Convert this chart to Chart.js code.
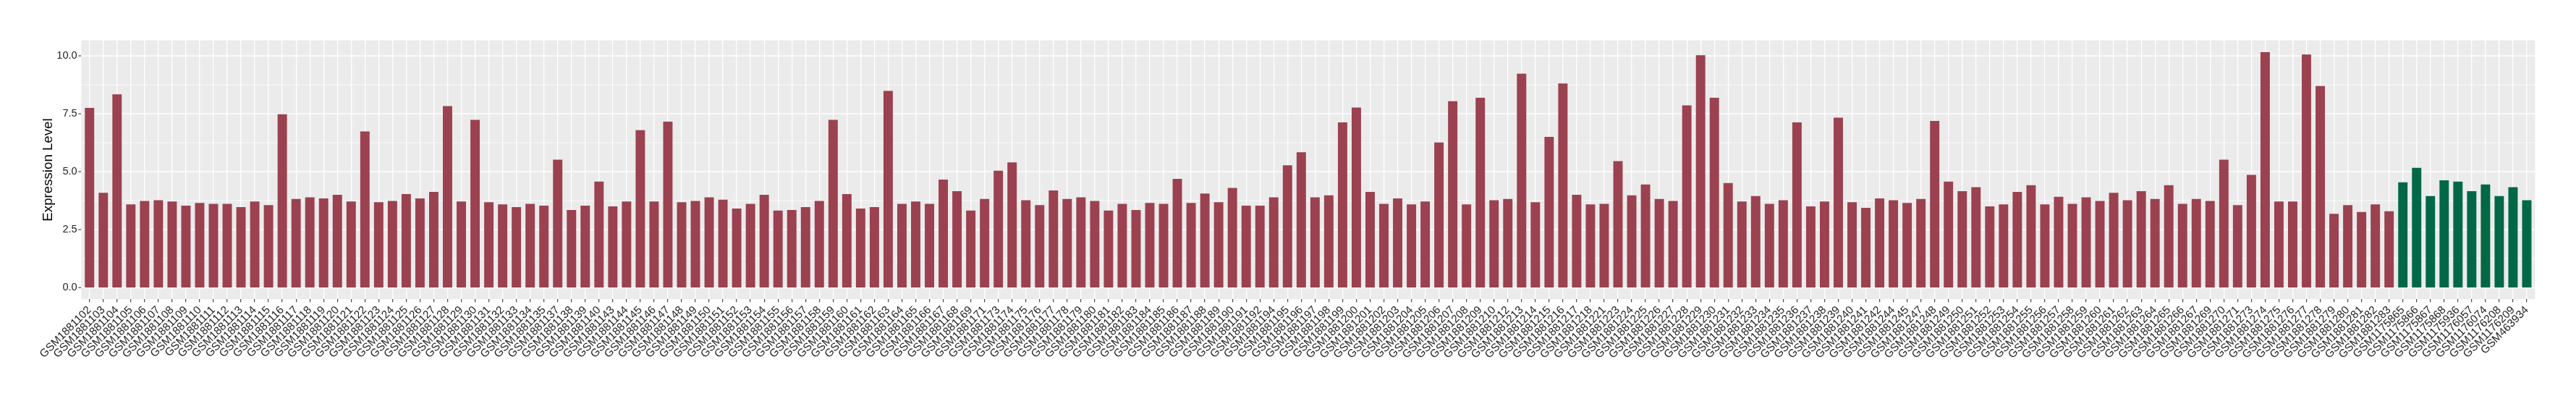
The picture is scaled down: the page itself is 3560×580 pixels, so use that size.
<!DOCTYPE html>
<html>
<head>
<meta charset="utf-8">
<script src="https://cdn.jsdelivr.net/npm/chart.js@4.4.1/dist/chart.umd.min.js"></script>
<style>
  html, body { margin: 0; padding: 0; background: #ffffff; }
  canvas { display: block; }
</style>
</head>
<body>
<canvas id="c" width="3560" height="580"></canvas>
<script>
// ---- Data ----
const redSamples = [
  "GSM1881102","GSM1881103","GSM1881104","GSM1881105","GSM1881106","GSM1881107","GSM1881108","GSM1881109","GSM1881110","GSM1881111",
  "GSM1881112","GSM1881113","GSM1881114","GSM1881115","GSM1881116","GSM1881117","GSM1881118","GSM1881119","GSM1881120","GSM1881121",
  "GSM1881122","GSM1881123","GSM1881124","GSM1881125","GSM1881126","GSM1881127","GSM1881128","GSM1881129","GSM1881130","GSM1881131",
  "GSM1881132","GSM1881133","GSM1881134","GSM1881135","GSM1881137","GSM1881138","GSM1881139","GSM1881140","GSM1881143","GSM1881144",
  "GSM1881145","GSM1881146","GSM1881147","GSM1881148","GSM1881149","GSM1881150","GSM1881151","GSM1881152","GSM1881153","GSM1881154",
  "GSM1881155","GSM1881156","GSM1881157","GSM1881158","GSM1881159","GSM1881160","GSM1881161","GSM1881162","GSM1881163","GSM1881164",
  "GSM1881165","GSM1881166","GSM1881167","GSM1881168","GSM1881169","GSM1881171","GSM1881173","GSM1881174","GSM1881175","GSM1881176",
  "GSM1881177","GSM1881178","GSM1881179","GSM1881180","GSM1881181","GSM1881182","GSM1881183","GSM1881184","GSM1881185","GSM1881186",
  "GSM1881187","GSM1881188","GSM1881189","GSM1881190","GSM1881191","GSM1881192","GSM1881194","GSM1881195","GSM1881196","GSM1881197",
  "GSM1881198","GSM1881199","GSM1881200","GSM1881201","GSM1881202","GSM1881203","GSM1881204","GSM1881205","GSM1881206","GSM1881207",
  "GSM1881208","GSM1881209","GSM1881210","GSM1881212","GSM1881213","GSM1881214","GSM1881215","GSM1881216","GSM1881217","GSM1881218",
  "GSM1881221","GSM1881223","GSM1881224","GSM1881225","GSM1881226","GSM1881227","GSM1881228","GSM1881229","GSM1881230","GSM1881231",
  "GSM1881232","GSM1881233","GSM1881234","GSM1881235","GSM1881236","GSM1881237","GSM1881238","GSM1881239","GSM1881240","GSM1881241",
  "GSM1881242","GSM1881244","GSM1881245","GSM1881247","GSM1881248","GSM1881249","GSM1881250","GSM1881251","GSM1881252","GSM1881253",
  "GSM1881254","GSM1881255","GSM1881256","GSM1881257","GSM1881258","GSM1881259","GSM1881260","GSM1881261","GSM1881262","GSM1881263",
  "GSM1881264","GSM1881265","GSM1881266","GSM1881267","GSM1881269","GSM1881270","GSM1881271","GSM1881273","GSM1881274","GSM1881275",
  "GSM1881276","GSM1881277","GSM1881278","GSM1881279","GSM1881280","GSM1881281","GSM1881282","GSM1881283"
];
const redValues = [
  7.75,4.09,8.34,3.59,3.74,3.77,3.71,3.53,3.65,3.61,
  3.61,3.47,3.71,3.56,7.48,3.82,3.89,3.85,4.00,3.71,
  6.74,3.68,3.74,4.03,3.85,4.13,7.83,3.71,7.24,3.68,
  3.59,3.47,3.61,3.53,5.52,3.35,3.53,4.57,3.50,3.71,
  6.79,3.71,7.16,3.68,3.74,3.89,3.79,3.41,3.61,4.00,
  3.32,3.35,3.47,3.74,7.24,4.03,3.41,3.47,8.49,3.61,
  3.71,3.61,4.66,4.16,3.32,3.82,5.04,5.40,3.77,3.56,
  4.19,3.82,3.89,3.74,3.32,3.61,3.35,3.65,3.61,4.69,
  3.65,4.06,3.68,4.30,3.53,3.53,3.89,5.28,5.84,3.89,
  3.98,7.13,7.77,4.13,3.61,3.85,3.59,3.71,6.26,8.04,
  3.59,8.19,3.77,3.82,9.23,3.68,6.50,8.81,4.00,3.59,
  3.61,5.46,3.98,4.45,3.82,3.74,7.86,10.03,8.19,4.51,
  3.71,3.95,3.61,3.77,7.13,3.50,3.71,7.33,3.68,3.44,
  3.85,3.77,3.65,3.82,7.19,4.57,4.16,4.33,3.50,3.59,
  4.13,4.42,3.59,3.92,3.61,3.89,3.74,4.09,3.77,4.16,
  3.82,4.42,3.61,3.82,3.74,5.52,3.56,4.86,10.16,3.71,
  3.71,10.06,8.70,3.18,3.56,3.26,3.59,3.29
];
const greenSamples = [
  "GSM1175865","GSM1175866","GSM1175867","GSM1175868","GSM1175936",
  "GSM1176057","GSM1176074","GSM1176208","GSM1176209","GSM463934"
];
const greenValues = [4.54,5.17,3.95,4.63,4.57,4.16,4.45,3.95,4.33,3.77];

const yMajorTicks = [0, 2.5, 5, 7.5, 10];
const yMinorTicks = [1.25, 3.75, 6.25, 8.75];
const yTitle = "Expression Level";

// ---- Styles ----
const RED = "#9B4150";
const GREEN = "#006847";
const PANEL = "#EBEBEB";
const FONT = "'Liberation Sans', Arial, Helvetica, sans-serif";
const TEXT = "#1f1f1f";

const categories = redSamples.concat(greenSamples);
const values = redValues.concat(greenValues);
const colors = redSamples.map(() => RED).concat(greenSamples.map(() => GREEN));

const panelPlugin = {
  id: 'panelPlugin',
  beforeDraw(chart) {
    const {ctx, chartArea, scales} = chart;
    const xs = scales.x;
    const cw = xs.getPixelForValue(1) - xs.getPixelForValue(0);
    const left = chartArea.left - 0.1 * cw;
    const right = chartArea.right + 0.1 * cw;
    chart.$panel = {left, right};
    ctx.save();
    ctx.fillStyle = PANEL;
    ctx.fillRect(left, chartArea.top, right - left, chartArea.bottom - chartArea.top);
    // y tick marks
    ctx.strokeStyle = "#333333";
    ctx.lineWidth = 1.1;
    yMajorTicks.forEach(v => {
      const y = scales.y.getPixelForValue(v);
      ctx.beginPath();
      ctx.moveTo(left - 4, y);
      ctx.lineTo(left, y);
      ctx.stroke();
    });
    ctx.restore();
  },
  beforeDatasetsDraw(chart) {
    const {ctx, scales} = chart;
    const {left, right} = chart.$panel;
    ctx.save();
    ctx.strokeStyle = "#FFFFFF";
    ctx.lineWidth = 0.8;
    yMinorTicks.forEach(v => {
      const y = scales.y.getPixelForValue(v);
      ctx.beginPath(); ctx.moveTo(left, y); ctx.lineTo(right, y); ctx.stroke();
    });
    ctx.lineWidth = 1.5;
    yMajorTicks.forEach(v => {
      const y = scales.y.getPixelForValue(v);
      ctx.beginPath(); ctx.moveTo(left, y); ctx.lineTo(right, y); ctx.stroke();
    });
    ctx.restore();
  }
};

new Chart(document.getElementById('c'), {
  type: 'bar',
  data: {
    labels: categories,
    datasets: [{
      label: yTitle,
      data: values,
      backgroundColor: colors,
      borderWidth: 0,
      barPercentage: 0.68,
      categoryPercentage: 1.0
    }]
  },
  options: {
    responsive: false,
    animation: false,
    devicePixelRatio: 1,
    layout: { padding: { left: 0, right: 58.5, top: 55.7, bottom: 0 } },
    plugins: { legend: { display: false }, tooltip: { enabled: false }, title: { display: false } },
    scales: {
      x: {
        type: 'category',
        offset: true,
        afterFit(scale) { scale.height = 166.7; },
        grid: {
          display: true,
          offset: false,
          color: '#FFFFFF',
          lineWidth: 1.3,
          drawTicks: true,
          tickLength: 4,
          tickColor: '#333333',
          tickWidth: 1.1
        },
        border: { display: false },
        ticks: {
          autoSkip: false,
          minRotation: 45,
          maxRotation: 45,
          padding: 2,
          color: TEXT,
          font: { family: FONT, size: 15.3 }
        }
      },
      y: {
        min: -0.508,
        max: 10.67,
        afterFit(scale) { scale.width = 114.2; },
        afterBuildTicks(scale) { scale.ticks = yMajorTicks.map(v => ({ value: v })); },
        grid: { display: false, drawTicks: false },
        border: { display: false },
        ticks: {
          padding: 7.5,
          color: TEXT,
          font: { family: FONT, size: 14.6 },
          callback: (v) => Number(v).toFixed(1)
        },
        title: {
          display: true,
          text: yTitle,
          color: '#000000',
          font: { family: FONT, size: 18.7 },
          padding: { top: 56, bottom: 0 }
        }
      }
    }
  },
  plugins: [panelPlugin]
});
</script>
</body>
</html>
